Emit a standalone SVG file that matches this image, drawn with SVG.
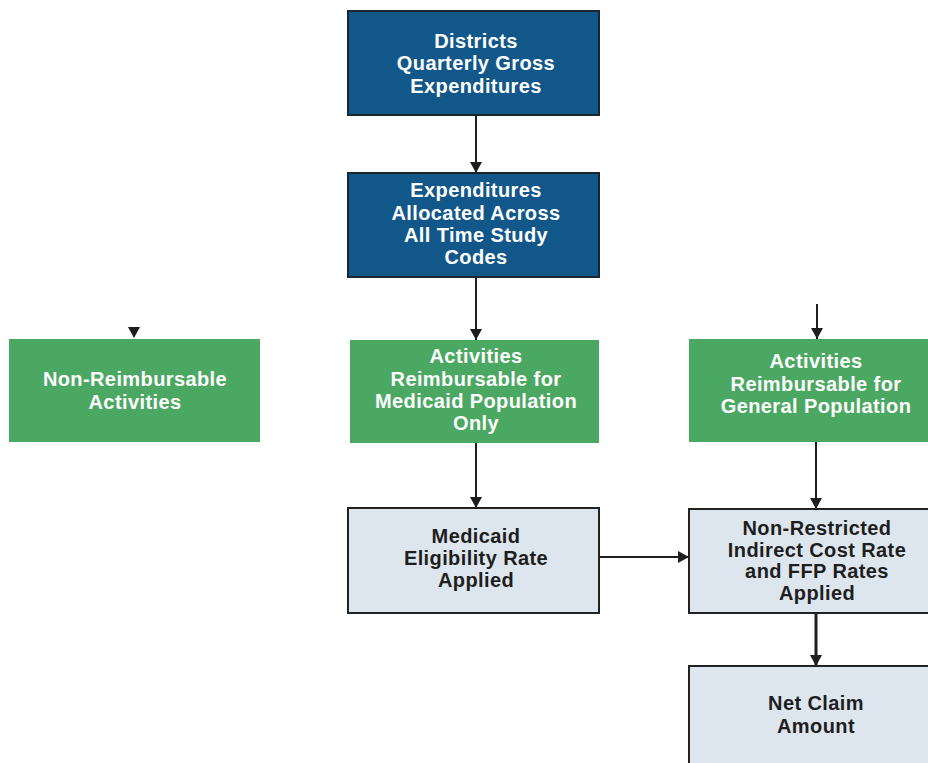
<svg xmlns="http://www.w3.org/2000/svg" width="928" height="763" viewBox="0 0 928 763">
<defs>
<style>
.blue{fill:#12578a;stroke:#1b2530;stroke-width:2}
.green{fill:#4ba862}
.grey{fill:#dde5ee;stroke:#222;stroke-width:2}
text{font-family:"Liberation Sans",Arial,sans-serif;font-weight:bold;font-size:20px;text-anchor:middle;letter-spacing:0.4px}
.w{fill:#ffffff}
.d{fill:#1e1e1e}
.c{stroke:#1e1e1e;stroke-width:2;fill:none}
</style>
<marker id="ah" viewBox="0 0 11 12" refX="11" refY="6" markerWidth="11" markerHeight="12" markerUnits="userSpaceOnUse" orient="auto">
<path d="M0,0 L11,6 L0,12 Z" fill="#1e1e1e"/>
</marker>
</defs>
<rect width="928" height="763" fill="#ffffff"/>
<g id="connectors">
<line class="c" x1="476" y1="115" x2="476" y2="173" marker-end="url(#ah)"/>
<line class="c" x1="476" y1="277" x2="476" y2="340" marker-end="url(#ah)"/>
<line class="c" x1="476" y1="443" x2="476" y2="508" marker-end="url(#ah)"/>
<line class="c" x1="599" y1="557" x2="689" y2="557" marker-end="url(#ah)"/>
<line class="c" x1="817" y1="304" x2="817" y2="339" marker-end="url(#ah)"/>
<line class="c" x1="816" y1="442" x2="816" y2="509" marker-end="url(#ah)"/>
<line class="c" style="stroke-width:3" x1="816" y1="613" x2="816" y2="666" marker-end="url(#ah)"/>
<path d="M128,327 L140,327 L134,338 Z" fill="#1e1e1e"/>
</g>
<g id="districts">
<rect class="blue" x="348" y="11" width="251" height="104"/>
<text class="w" x="476" y="48">Districts</text>
<text class="w" x="476" y="70">Quarterly Gross</text>
<text class="w" x="476" y="93">Expenditures</text>
</g>
<g id="allocated">
<rect class="blue" x="348" y="173" width="251" height="104"/>
<text class="w" x="476" y="197">Expenditures</text>
<text class="w" x="476" y="220">Allocated Across</text>
<text class="w" x="476" y="242">All Time Study</text>
<text class="w" x="476" y="264">Codes</text>
</g>
<g id="nonreimb">
<rect class="green" x="9" y="339" width="251" height="103"/>
<text class="w" x="135" y="386">Non-Reimbursable</text>
<text class="w" x="135" y="409">Activities</text>
</g>
<g id="medicaidpop">
<rect class="green" x="350" y="340" width="249" height="103"/>
<text class="w" x="476" y="363">Activities</text>
<text class="w" x="476" y="386">Reimbursable for</text>
<text class="w" x="476" y="408">Medicaid Population</text>
<text class="w" x="476" y="430">Only</text>
</g>
<g id="generalpop">
<rect class="green" x="689" y="339" width="251" height="103"/>
<text class="w" x="816" y="368">Activities</text>
<text class="w" x="816" y="391">Reimbursable for</text>
<text class="w" x="816" y="413">General Population</text>
</g>
<g id="eligibility">
<rect class="grey" x="348" y="508" width="251" height="105"/>
<text class="d" x="476" y="543">Medicaid</text>
<text class="d" x="476" y="565">Eligibility Rate</text>
<text class="d" x="476" y="587">Applied</text>
</g>
<g id="nonrestricted">
<rect class="grey" x="689" y="509" width="251" height="104"/>
<text class="d" x="817" y="535">Non-Restricted</text>
<text class="d" x="817" y="557">Indirect Cost Rate</text>
<text class="d" x="817" y="578">and FFP Rates</text>
<text class="d" x="817" y="600">Applied</text>
</g>
<g id="netclaim">
<rect class="grey" x="689" y="666" width="251" height="110"/>
<text class="d" x="816" y="710">Net Claim</text>
<text class="d" x="816" y="733">Amount</text>
</g>
</svg>
